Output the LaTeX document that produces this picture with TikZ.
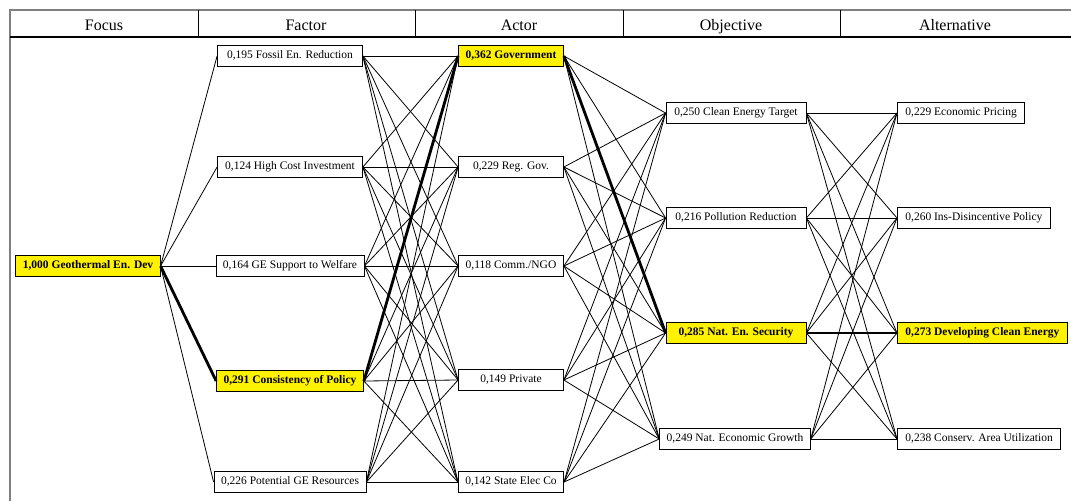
\documentclass[tikz,border=0pt]{standalone}
\usepackage{fontspec}
\setmainfont{Liberation Serif}

\begin{document}
\begin{tikzpicture}[x=1pt, y=-1pt, inner sep=0pt]
    \tikzstyle{box}=[rectangle, draw=black, fill=white, text=black, line width=0.8pt, minimum height=21pt, inner xsep=7pt, text height=8pt, text depth=2.5pt, font=\fontsize{11.5}{13}\selectfont]
    \tikzstyle{hot}=[box, fill=yellow, font=\fontsize{11.5}{13}\selectfont\bfseries]
    \tikzstyle{fac}=[minimum width=145pt]
    \tikzstyle{act}=[minimum width=105pt]
    \tikzstyle{obj}=[minimum width=140pt]
    \tikzstyle{alt}=[anchor=west, inner xsep=8pt]
    \tikzstyle{head}=[anchor=base, font=\fontsize{16}{19}\selectfont]
    \tikzstyle{link}=[draw=black, line width=0.8pt]
    \tikzstyle{best}=[draw=black, line width=2.8pt]

    \useasboundingbox (0,0) rectangle (1071,501);

    % header row
    \draw[gray, line width=1.5pt] (10,501) -- (10,10) -- (1071,10);
    \draw[line width=2pt] (10,37) -- (1071,37);
    \foreach \x in {198,415,623,840}
        \draw[line width=1pt] (\x,10) -- (\x,37);
    \node[head] (hFocus) at (104,30) {Focus};
    \node[head] (hFactor) at (306,30) {Factor};
    \node[head] (hActor) at (519,30) {Actor};
    \node[head] (hObjective) at (731,30) {Objective};
    \node[head] (hAlternative) at (955,30) {Alternative};

    % focus
    \node[hot] (G) at (88,266) {1,000 Geothermal En. Dev};

    % factors
    \node[box, fac] (F1) at (290,56) {0,195 Fossil En. Reduction};
    \node[box, fac] (F2) at (290,167) {0,124 High Cost Investment};
    \node[box, fac] (F3) at (290,266) {0,164 GE Support to Welfare};
    \node[hot, fac] (F4) at (290,381) {0,291 Consistency of Policy};
    \node[box, fac] (F5) at (290,482) {0,226 Potential GE Resources};

    % actors
    \node[hot, act] (A1) at (511,56) {0,362 Government};
    \node[box, act] (A2) at (511,167) {0,229 Reg. Gov.};
    \node[box, act] (A3) at (511,266) {0,118 Comm./NGO};
    \node[box, act] (A4) at (511,380) {0,149 Private};
    \node[box, act] (A5) at (511,482) {0,142 State Elec Co};

    % objectives
    \node[box, obj] (O1) at (736,113) {0,250 Clean Energy Target};
    \node[box, obj] (O2) at (736,218) {0,216 Pollution Reduction};
    \node[hot, obj] (O3) at (736,333) {0,285 Nat. En. Security};
    \node[box, obj] (O4) at (735,439) {0,249 Nat. Economic Growth};

    % alternatives
    \node[box, alt] (L1) at (897,113) {0,229 Economic Pricing};
    \node[box, alt] (L2) at (897,218) {0,260 Ins-Disincentive Policy};
    \node[hot, alt] (L3) at (897,333) {0,273 Developing Clean Energy};
    \node[box, alt] (L4) at (897,439) {0,238 Conserv. Area Utilization};

    % links between levels
    \foreach \f in {1,...,5}
        \draw[link] (G.east) -- (F\f.west);
    \foreach \f in {1,...,5}
        \foreach \a in {1,...,5}
            \draw[link] (F\f.east) -- (A\a.west);
    \foreach \a in {1,...,5}
        \foreach \o in {1,...,4}
            \draw[link] (A\a.east) -- (O\o.west);
    \foreach \o in {1,...,4}
        \foreach \l in {1,...,4}
            \draw[link] (O\o.east) -- (L\l.west);

    % best path
    \draw[best] (G.east) -- (F4.west);
    \draw[best] (F4.east) -- (A1.west);
    \draw[best] (A1.east) -- (O3.west);
    \draw[best] (O3.east) -- (L3.west);
\end{tikzpicture}
\end{document}
